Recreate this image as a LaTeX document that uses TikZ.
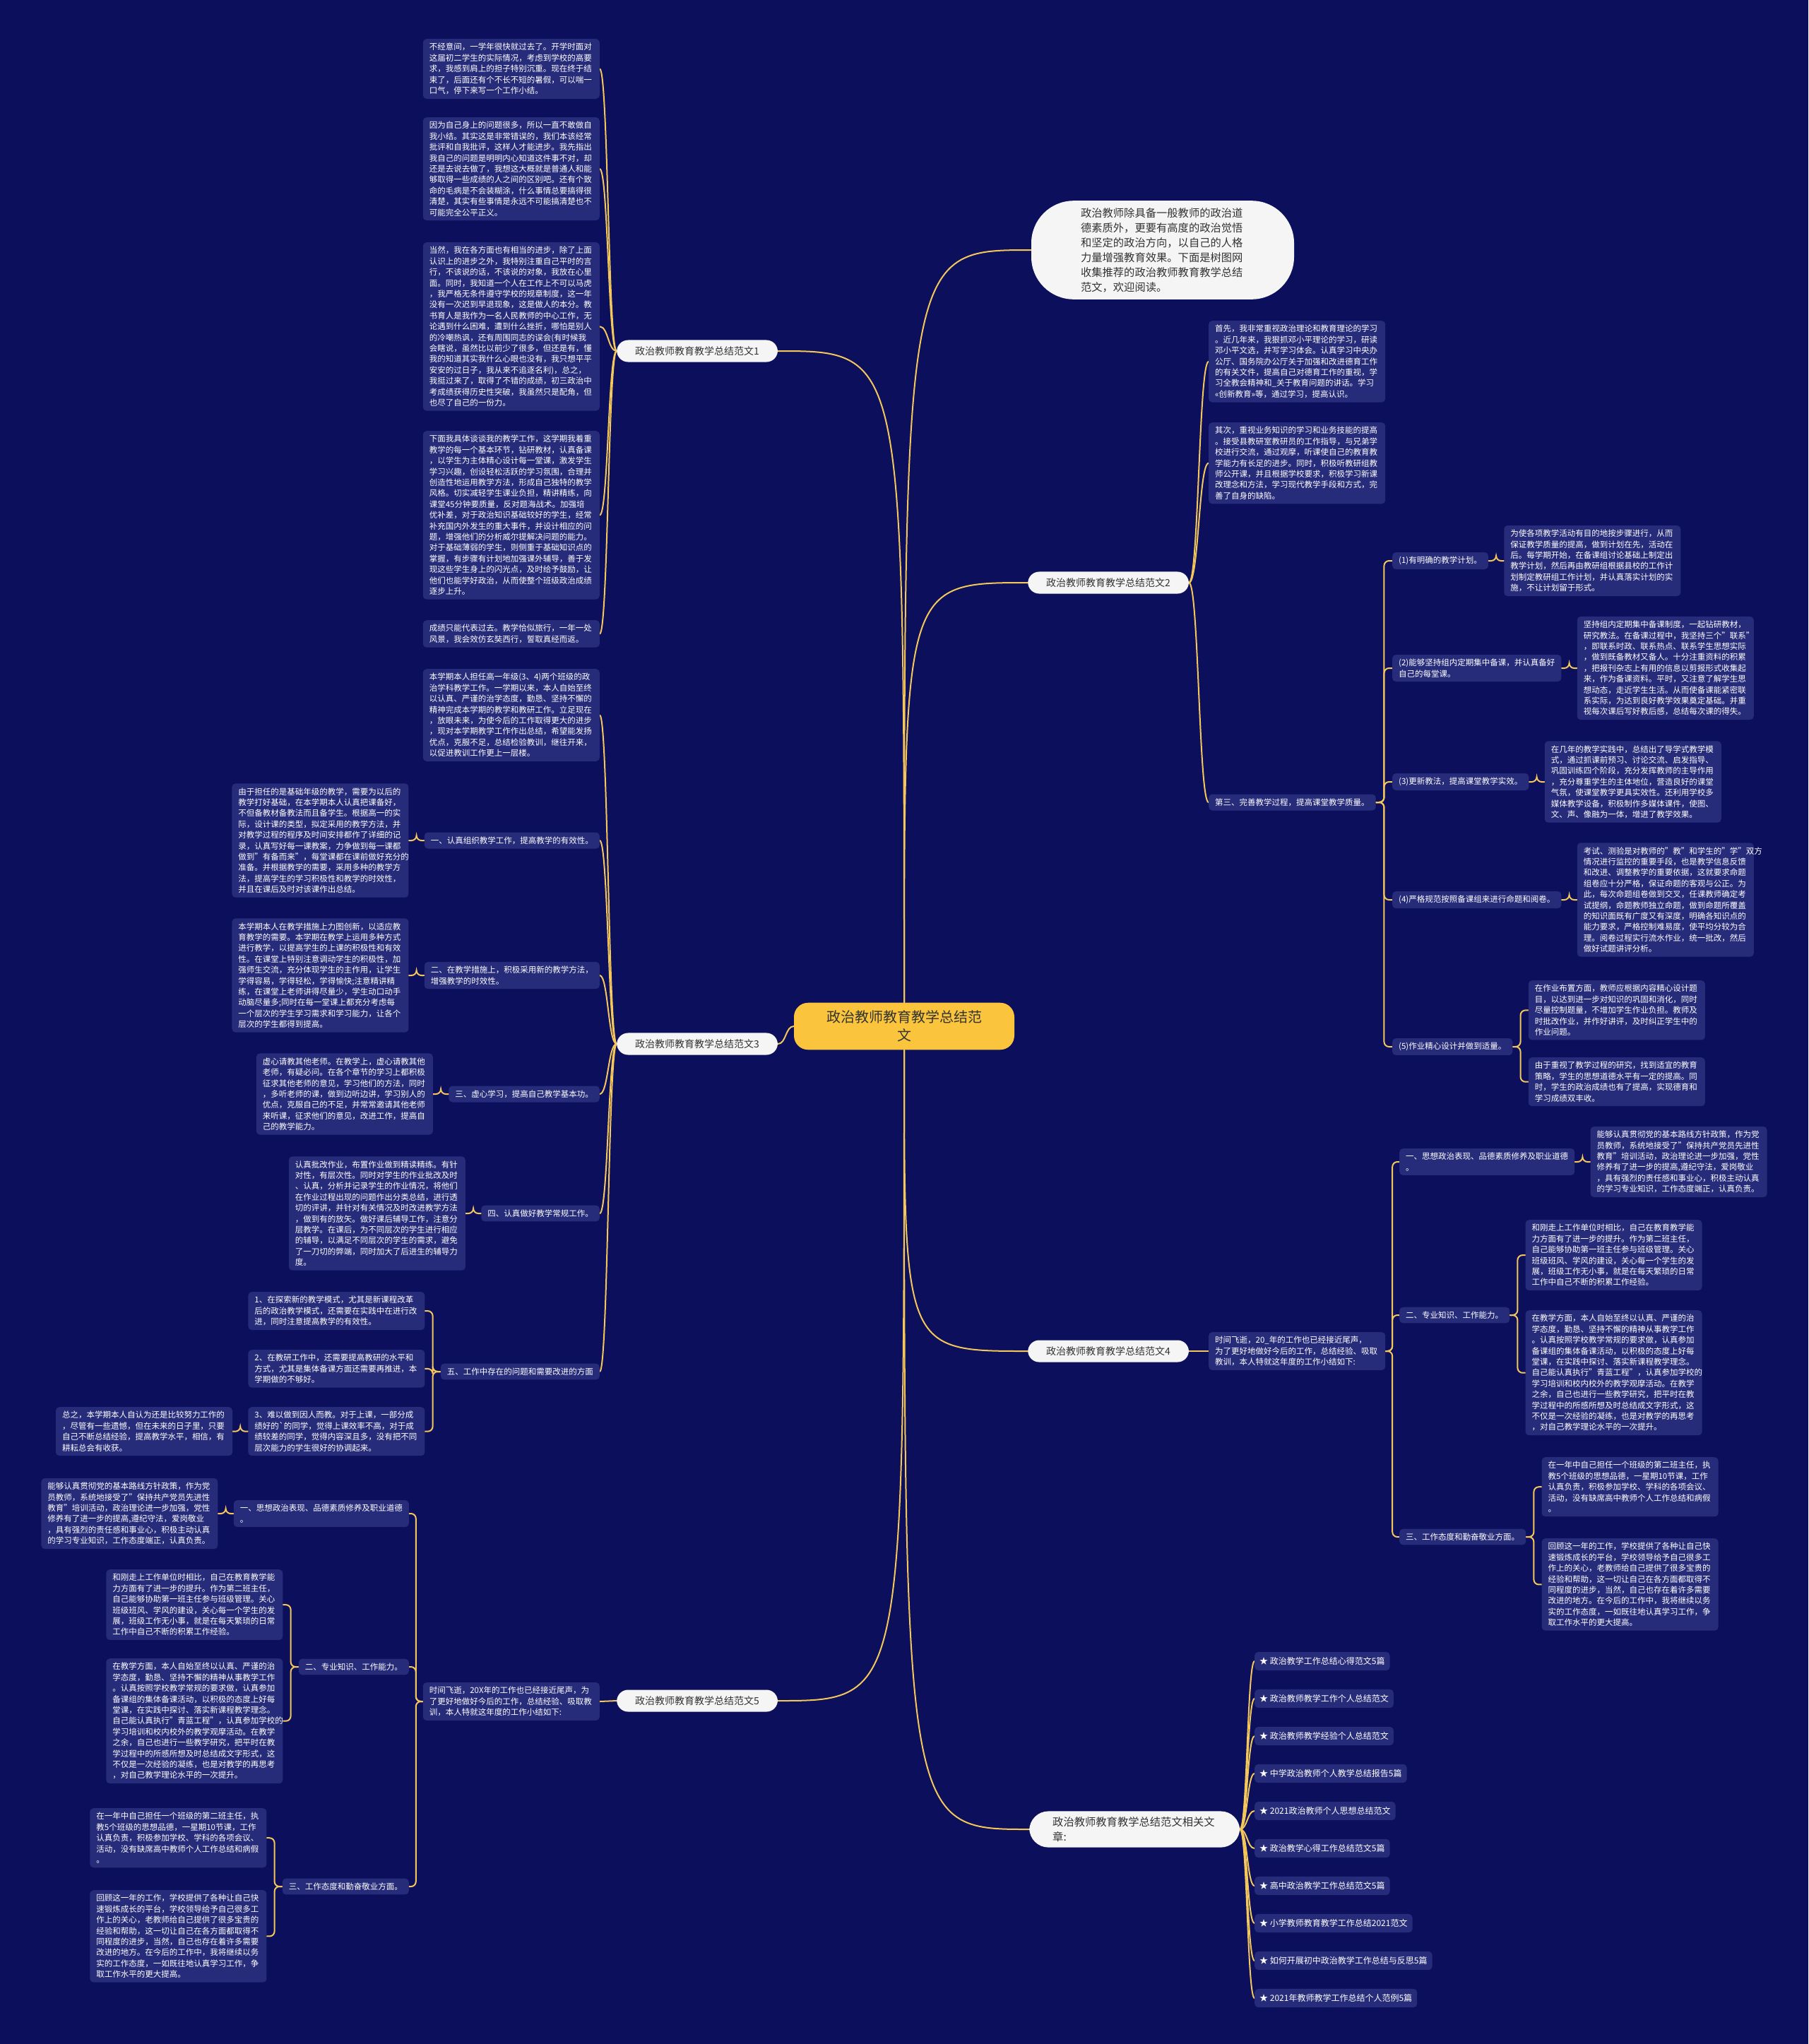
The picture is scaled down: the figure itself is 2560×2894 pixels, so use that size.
\documentclass[tikz,border=0pt]{standalone}
\usepackage{fontspec}
\setmainfont{Noto Sans CJK SC}
\usetikzlibrary{calc,positioning}
\definecolor{bgc}{HTML}{0B0F5C}
\definecolor{boxc}{HTML}{272C7A}
\definecolor{linec}{HTML}{F3C75A}
\definecolor{ctrc}{HTML}{FAC53C}
\definecolor{pillc}{HTML}{F5F5F5}
\definecolor{darkt}{HTML}{333333}
\pgfdeclarelayer{back}\pgfdeclarelayer{lines}
\pgfsetlayers{back,lines,main}
\newcommand\cL[2]{\path (#1.west) coordinate (pp) (#2.east) coordinate (qq) ($(pp)!0.5!(qq)$) coordinate (mm);\draw[link] (pp) .. controls (mm|-pp) and (mm|-qq) .. (qq);}
\newcommand\cR[2]{\path (#1.east) coordinate (pp) (#2.west) coordinate (qq) ($(pp)!0.5!(qq)$) coordinate (mm);\draw[link] (pp) .. controls (mm|-pp) and (mm|-qq) .. (qq);}
\newcommand\bL[2]{\path (#1.west) coordinate (pp) (#2.east) coordinate (qq) ($(pp)!0.5!(qq)$) coordinate (mm);\draw[brk] (pp) -- (mm|-pp) -- (mm|-qq) -- (qq);}
\newcommand\bR[2]{\path (#1.east) coordinate (pp) (#2.west) coordinate (qq) ($(pp)!0.5!(qq)$) coordinate (mm);\draw[brk] (pp) -- (mm|-pp) -- (mm|-qq) -- (qq);}
\tikzset{
 link/.style={draw=linec, line width=2pt, line cap=round},
 brk/.style={link, rounded corners=7pt},
 txt/.style={fill=boxc, rounded corners=5pt, text=white, font=\fontsize{11.5pt}{15.4pt}\selectfont, align=left, text width=232pt, inner xsep=9pt, inner ysep=6pt},
 sub/.style={fill=boxc, rounded corners=5pt, text=white, font=\fontsize{11.5pt}{15.4pt}\selectfont, align=left, inner xsep=9pt, inner ysep=6pt},
 pill/.style={fill=pillc, text=darkt, rounded corners=16pt, font=\fontsize{14pt}{18pt}\selectfont, inner xsep=26pt, inner ysep=9pt},
 ctr/.style={fill=ctrc, text=darkt, rounded corners=20pt, font=\fontsize{20pt}{26pt}\selectfont, align=center, text width=230pt, inner xsep=41pt, inner ysep=11pt},
 bubble/.style={fill=pillc, text=darkt, rounded corners=60pt, font=\fontsize{15.3pt}{21pt}\selectfont, align=left, text width=232pt, inner xsep=70pt, inner ysep=10pt},
 relc/.style={fill=pillc, text=darkt, rounded corners=27pt, font=\fontsize{15.3pt}{21pt}\selectfont, align=left, text width=232pt, inner xsep=33pt, inner ysep=8pt},
 relitem/.style={fill=boxc, rounded corners=5pt, text=white, font=\fontsize{12pt}{15pt}\selectfont, inner xsep=7pt, inner ysep=7.5pt, anchor=west}
}
\begin{document}
\begin{tikzpicture}[x=1pt,y=1pt]
\begin{pgfonlayer}{back}
\fill[bgc] (0,0) rectangle (2560,-2894);
\end{pgfonlayer}
\useasboundingbox (0,0) rectangle (2560,-2894);

% center and main branches
\node[ctr] (c) at (1280,-1453) {政治教师教育教学总结范\\文};
\node[pill, anchor=west] (b1) at (873,-497) {政治教师教育教学总结范文1};
\node[bubble] (intro) at (1646,-354) {政治教师除具备一般教师的政治道\\德素质外，更要有高度的政治觉悟\\和坚定的政治方向，以自己的人格\\力量增强教育效果。下面是树图网\\收集推荐的政治教师教育教学总结\\范文，欢迎阅读。};
\node[pill, anchor=west] (b2) at (1455,-825) {政治教师教育教学总结范文2};
\node[pill, anchor=west] (b3) at (873,-1478) {政治教师教育教学总结范文3};
\node[pill, anchor=west] (b4) at (1455,-1913) {政治教师教育教学总结范文4};
\node[pill, anchor=west] (b5) at (873,-2408) {政治教师教育教学总结范文5};
\node[relc, anchor=west] (rel) at (1457,-2590) {政治教师教育教学总结范文相关文\\章:};

% branch 1
\node[txt, anchor=north east] (t1a) at (849,-55) {不经意间，一学年很快就过去了。开学时面对\\这届初二学生的实际情况，考虑到学校的高要\\求，我感到肩上的担子特别沉重。现在终于结\\束了，后面还有个不长不短的暑假，可以喘一\\口气，停下来写一个工作小结。};
\node[txt, anchor=north east] (t1b) at (849,-166) {因为自己身上的问题很多，所以一直不敢做自\\我小结。其实这是非常错误的，我们本该经常\\批评和自我批评，这样人才能进步。我先指出\\我自己的问题是明明内心知道这件事不对，却\\还是去说去做了，我想这大概就是普通人和能\\够取得一些成绩的人之间的区别吧。还有个致\\命的毛病是不会装糊涂，什么事情总要搞得很\\清楚，其实有些事情是永远不可能搞清楚也不\\可能完全公平正义。};
\node[txt, anchor=north east] (t1c) at (849,-343) {当然，我在各方面也有相当的进步，除了上面\\认识上的进步之外，我特别注重自己平时的言\\行，不该说的话，不该说的对象，我放在心里\\面。同时，我知道一个人在工作上不可以马虎\\，我严格无条件遵守学校的规章制度，这一年\\没有一次迟到早退现象，这是做人的本分。教\\书育人是我作为一名人民教师的中心工作，无\\论遇到什么困难，遭到什么挫折，哪怕是别人\\的冷嘲热讽，还有周围同志的误会(有时候我\\会瞎说，虽然比以前少了很多，但还是有，懂\\我的知道其实我什么心眼也没有，我只想平平\\安安的过日子，我从来不追逐名利)，总之，\\我挺过来了，取得了不错的成绩，初三政治中\\考成绩获得历史性突破，我虽然只是配角，但\\也尽了自己的一份力。};
\node[txt, anchor=north east] (t1d) at (849,-610) {下面我具体谈谈我的教学工作，这学期我着重\\教学的每一个基本环节，钻研教材，认真备课\\，以学生为主体精心设计每一堂课，激发学生\\学习兴趣，创设轻松活跃的学习氛围，合理并\\创造性地运用教学方法，形成自己独特的教学\\风格。切实减轻学生课业负担，精讲精练，向\\课堂45分钟要质量，反对题海战术。加强培\\优补差，对于政治知识基础较好的学生，经常\\补充国内外发生的重大事件，并设计相应的问\\题，增强他们的分析威尔提解决问题的能力。\\对于基础薄弱的学生，则侧重于基础知识点的\\掌握，有步骤有计划地加强课外辅导，善于发\\现这些学生身上的闪光点，及时给予鼓励，让\\他们也能学好政治，从而使整个班级政治成绩\\逐步上升。};
\node[txt, anchor=north east] (t1e) at (849,-878) {成绩只能代表过去。教学恰似旅行，一年一处\\风景，我会效仿玄奘西行，誓取真经而返。};

% branch 2
\node[txt, anchor=north west] (s1) at (1711,-454) {首先，我非常重视政治理论和教育理论的学习\\。近几年来，我狠抓邓小平理论的学习，研读\\邓小平文选，并写学习体会。认真学习中央办\\公厅、国务院办公厅关于加强和改进德育工作\\的有关文件，提高自己对德育工作的重视，学\\习全教会精神和\_关于教育问题的讲话。学习\\<<创新教育>>等，通过学习，提高认识。};
\node[txt, anchor=north west] (s2) at (1711,-598) {其次，重视业务知识的学习和业务技能的提高\\。接受县教研室教研员的工作指导，与兄弟学\\校进行交流，通过观摩，听课使自己的教育教\\学能力有长足的进步。同时，积极听教研组教\\师公开课，并且根据学校要求，积极学习新课\\改理念和方法，学习现代教学手段和方式，完\\善了自身的缺陷。};
\node[sub, anchor=west] (s3) at (1711,-1136) {第三、完善教学过程，提高课堂教学质量。};
\node[sub, anchor=west] (p1) at (1971,-794) {(1)有明确的教学计划。};
\node[txt, right=22pt of p1] (q1) {为使各项教学活动有目的地按步骤进行，从而\\保证教学质量的提高，做到计划在先，活动在\\后。每学期开始，在备课组讨论基础上制定出\\教学计划，然后再由教研组根据县校的工作计\\划制定教研组工作计划，并认真落实计划的实\\施，不让计划留于形式。};
\node[sub, anchor=west] (p2) at (1971,-946) {(2)能够坚持组内定期集中备课，并认真备好\\自己的每堂课。};
\node[txt, right=22pt of p2] (q2) {坚持组内定期集中备课制度，一起钻研教材，\\研究教法。在备课过程中，我坚持三个"联系"\\，即联系时政、联系热点、联系学生思想实际\\，做到既备教材又备人。十分注重资料的积累\\，把报刊杂志上有用的信息以剪报形式收集起\\来，作为备课资料。平时，又注意了解学生思\\想动态，走近学生生活。从而使备课能紧密联\\系实际，为达到良好教学效果奠定基础。并重\\视每次课后写好教后感，总结每次课的得失。};
\node[sub, anchor=west] (p3) at (1971,-1107) {(3)更新教法，提高课堂教学实效。};
\node[txt, right=22pt of p3] (q3) {在几年的教学实践中，总结出了导学式教学模\\式，通过抓课前预习、讨论交流、启发指导、\\巩固训练四个阶段，充分发挥教师的主导作用\\，充分尊重学生的主体地位，营造良好的课堂\\气氛，使课堂教学更具实效性。还利用学校多\\媒体教学设备，积极制作多媒体课件，使图、\\文、声、像融为一体，增进了教学效果。};
\node[sub, anchor=west] (p4) at (1971,-1274) {(4)严格规范按照备课组来进行命题和阅卷。};
\node[txt, right=22pt of p4] (q4) {考试、测验是对教师的"教"和学生的"学"双方\\情况进行监控的重要手段，也是教学信息反馈\\和改进、调整教学的重要依据，这就要求命题\\组卷应十分严格，保证命题的客观与公正。为\\此，每次命题组卷做到交叉，任课教师确定考\\试提纲，命题教师独立命题，做到命题所覆盖\\的知识面既有广度又有深度，明确各知识点的\\能力要求，严格控制难易度，使平均分较为合\\理。阅卷过程实行流水作业，统一批改，然后\\做好试题讲评分析。};
\node[sub, anchor=west] (p5) at (1971,-1482) {(5)作业精心设计并做到适量。};
\node[txt, anchor=north west] (q5a) at ($(p5.east |- 0,-1388)+(22,0)$) {在作业布置方面，教师应根据内容精心设计题\\目，以达到进一步对知识的巩固和消化，同时\\尽量控制题量，不增加学生作业负担。教师及\\时批改作业，并作好讲评，及时纠正学生中的\\作业问题。};
\node[txt, anchor=north west] (q5b) at ($(p5.east |- 0,-1497)+(22,0)$) {由于重视了教学过程的研究，找到适宜的教育\\策略，学生的思想道德水平有一定的提高。同\\时，学生的政治成绩也有了提高，实现德育和\\学习成绩双丰收。};

% branch 3
\node[txt, anchor=north east] (t3a) at (849,-947) {本学期本人担任高一年级(3、4)两个班级的政\\治学科教学工作。一学期以来，本人自始至终\\以认真、严谨的治学态度，勤恳、坚持不懈的\\精神完成本学期的教学和教研工作。立足现在\\，放眼未来，为使今后的工作取得更大的进步\\，现对本学期教学工作作出总结，希望能发扬\\优点，克服不足，总结检验教训，继往开来，\\以促进教训工作更上一层楼。};
\node[sub, anchor=east] (n31) at (849,-1190) {一、认真组织教学工作，提高教学的有效性。};
\node[txt, left=22pt of n31] (u31) {由于担任的是基础年级的教学，需要为以后的\\教学打好基础，在本学期本人认真把课备好，\\不但备教材备教法而且备学生。根据高一的实\\际，设计课的类型，拟定采用的教学方法，并\\对教学过程的程序及时间安排都作了详细的记\\录，认真写好每一课教案，力争做到每一课都\\做到"有备而来"，每堂课都在课前做好充分的\\准备。并根据教学的需要，采用多种的教学方\\法，提高学生的学习积极性和教学的时效性，\\并且在课后及时对该课作出总结。};
\node[sub, anchor=east] (n32) at (849,-1381) {二、在教学措施上，积极采用新的教学方法，\\增强教学的时效性。};
\node[txt, left=22pt of n32] (u32) {本学期本人在教学措施上力图创新，以适应教\\育教学的需要。本学期在教学上运用多种方式\\进行教学，以提高学生的上课的积极性和有效\\性。在课堂上特别注意调动学生的积极性，加\\强师生交流，充分体现学生的主作用，让学生\\学得容易，学得轻松，学得愉快;注意精讲精\\练，在课堂上老师讲得尽量少，学生动口动手\\动脑尽量多;同时在每一堂课上都充分考虑每\\一个层次的学生学习需求和学习能力，让各个\\层次的学生都得到提高。};
\node[sub, anchor=east] (n33) at (849,-1549) {三、虚心学习，提高自己教学基本功。};
\node[txt, left=22pt of n33] (u33) {虚心请教其他老师。在教学上，虚心请教其他\\老师，有疑必问。在各个章节的学习上都积极\\征求其他老师的意见，学习他们的方法，同时\\，多听老师的课，做到边听边讲，学习别人的\\优点，克服自己的不足，并常常邀请其他老师\\来听课，征求他们的意见，改进工作，提高自\\己的教学能力。};
\node[sub, anchor=east] (n34) at (849,-1718) {四、认真做好教学常规工作。};
\node[txt, left=22pt of n34] (u34) {认真批改作业，布置作业做到精读精练。有针\\对性，有层次性。同时对学生的作业批改及时\\、认真，分析并记录学生的作业情况，将他们\\在作业过程出现的问题作出分类总结，进行透\\切的评讲，并针对有关情况及时改进教学方法\\，做到有的放矢。做好课后辅导工作，注意分\\层教学。在课后，为不同层次的学生进行相应\\的辅导，以满足不同层次的学生的需求，避免\\了一刀切的弊端，同时加大了后进生的辅导力\\度。};
\node[sub, anchor=east] (n35) at (849,-1942) {五、工作中存在的问题和需要改进的方面};
\node[txt, anchor=north east] (u35a) at ($(n35.west |- 0,-1829)+(-22,0)$) {1、在探索新的教学模式，尤其是新课程改革\\后的政治教学模式，还需要在实践中在进行改\\进，同时注意提高教学的有效性。};
\node[txt, anchor=north east] (u35b) at ($(n35.west |- 0,-1911)+(-22,0)$) {2、在教研工作中，还需要提高教研的水平和\\方式，尤其是集体备课方面还需要再推进，本\\学期做的不够好。};
\node[txt, anchor=north east] (u35c) at ($(n35.west |- 0,-1992)+(-22,0)$) {3、难以做到因人而教。对于上课，一部分成\\绩好的{\textasciigrave}的同学，觉得上课效率不高，对于成\\绩较差的同学，觉得内容深且多，没有把不同\\层次能力的学生很好的协调起来。};
\node[txt, left=22pt of u35c] (u35d) {总之，本学期本人自认为还是比较努力工作的\\，尽管有一些遗憾，但在未来的日子里，只要\\自己不断总结经验，提高教学水平，相信，有\\耕耘总会有收获。};

% branch 4
\node[txt, anchor=west] (t4) at (1711,-1913) {时间飞逝，20\_年的工作也已经接近尾声，\\为了更好地做好今后的工作，总结经验、吸取\\教训，本人特就这年度的工作小结如下:};
\node[sub, anchor=west] (n41) at (1981,-1645) {一、思想政治表现、品德素质修养及职业道德\\。};
\node[txt, right=22pt of n41] (u41) {能够认真贯彻党的基本路线方针政策，作为党\\员教师，系统地接受了"保持共产党员先进性\\教育"培训活动，政治理论进一步加强，党性\\修养有了进一步的提高,遵纪守法，爱岗敬业\\，具有强烈的责任感和事业心，积极主动认真\\的学习专业知识，工作态度端正，认真负责。};
\node[sub, anchor=west] (n42) at (1981,-1862) {二、专业知识、工作能力。};
\node[txt, anchor=north west] (u42a) at ($(n42.east |- 0,-1727)+(22,0)$) {和刚走上工作单位时相比，自己在教育教学能\\力方面有了进一步的提升。作为第二班主任，\\自己能够协助第一班主任参与班级管理。关心\\班级班风、学风的建设，关心每一个学生的发\\展，班级工作无小事，就是在每天繁琐的日常\\工作中自己不断的积累工作经验。};
\node[txt, anchor=north west] (u42b) at ($(n42.east |- 0,-1855)+(22,0)$) {在教学方面，本人自始至终以认真、严谨的治\\学态度，勤恳、坚持不懈的精神从事教学工作\\。认真按照学校教学常规的要求做，认真参加\\备课组的集体备课活动，以积极的态度上好每\\堂课，在实践中探讨、落实新课程教学理念。\\自己能认真执行"青蓝工程"，认真参加学校的\\学习培训和校内校外的教学观摩活动。在教学\\之余，自己也进行一些教学研究，把平时在教\\学过程中的所感所想及时总结成文字形式，这\\不仅是一次经验的凝练，也是对教学的再思考\\，对自己教学理论水平的一次提升。};
\node[sub, anchor=west] (n43) at (1981,-2176) {三、工作态度和勤奋敬业方面。};
\node[txt, anchor=north west] (u43a) at ($(n43.east |- 0,-2063)+(22,0)$) {在一年中自己担任一个班级的第二班主任，执\\教5个班级的思想品德，一星期10节课，工作\\认真负责，积极参加学校、学科的各项会议、\\活动，没有缺席高中教师个人工作总结和病假\\。};
\node[txt, anchor=north west] (u43b) at ($(n43.east |- 0,-2178)+(22,0)$) {回顾这一年的工作，学校提供了各种让自己快\\速锻炼成长的平台，学校领导给予自己很多工\\作上的关心，老教师给自己提供了很多宝贵的\\经验和帮助，这一切让自己在各方面都取得不\\同程度的进步，当然，自己也存在着许多需要\\改进的地方。在今后的工作中，我将继续以务\\实的工作态度，一如既往地认真学习工作，争\\取工作水平的更大提高。};

% branch 5
\node[txt, anchor=east] (t5) at (849,-2409) {时间飞逝，20X年的工作也已经接近尾声，为\\了更好地做好今后的工作，总结经验、吸取教\\训，本人特就这年度的工作小结如下:};
\node[sub, anchor=east] (n51) at (579,-2143) {一、思想政治表现、品德素质修养及职业道德\\。};
\node[txt, left=22pt of n51] (u51) {能够认真贯彻党的基本路线方针政策，作为党\\员教师，系统地接受了"保持共产党员先进性\\教育"培训活动，政治理论进一步加强，党性\\修养有了进一步的提高,遵纪守法，爱岗敬业\\，具有强烈的责任感和事业心，积极主动认真\\的学习专业知识，工作态度端正，认真负责。};
\node[sub, anchor=east] (n52) at (579,-2360) {二、专业知识、工作能力。};
\node[txt, anchor=north east] (u52a) at ($(n52.west |- 0,-2222)+(-22,0)$) {和刚走上工作单位时相比，自己在教育教学能\\力方面有了进一步的提升。作为第二班主任，\\自己能够协助第一班主任参与班级管理。关心\\班级班风、学风的建设，关心每一个学生的发\\展，班级工作无小事，就是在每天繁琐的日常\\工作中自己不断的积累工作经验。};
\node[txt, anchor=north east] (u52b) at ($(n52.west |- 0,-2348)+(-22,0)$) {在教学方面，本人自始至终以认真、严谨的治\\学态度，勤恳、坚持不懈的精神从事教学工作\\。认真按照学校教学常规的要求做，认真参加\\备课组的集体备课活动，以积极的态度上好每\\堂课，在实践中探讨、落实新课程教学理念。\\自己能认真执行"青蓝工程"，认真参加学校的\\学习培训和校内校外的教学观摩活动。在教学\\之余，自己也进行一些教学研究，把平时在教\\学过程中的所感所想及时总结成文字形式，这\\不仅是一次经验的凝练，也是对教学的再思考\\，对自己教学理论水平的一次提升。};
\node[sub, anchor=east] (n53) at (579,-2671) {三、工作态度和勤奋敬业方面。};
\node[txt, anchor=north east] (u53a) at ($(n53.west |- 0,-2560)+(-22,0)$) {在一年中自己担任一个班级的第二班主任，执\\教5个班级的思想品德，一星期10节课，工作\\认真负责，积极参加学校、学科的各项会议、\\活动，没有缺席高中教师个人工作总结和病假\\。};
\node[txt, anchor=north east] (u53b) at ($(n53.west |- 0,-2676)+(-22,0)$) {回顾这一年的工作，学校提供了各种让自己快\\速锻炼成长的平台，学校领导给予自己很多工\\作上的关心，老教师给自己提供了很多宝贵的\\经验和帮助，这一切让自己在各方面都取得不\\同程度的进步，当然，自己也存在着许多需要\\改进的地方。在今后的工作中，我将继续以务\\实的工作态度，一如既往地认真学习工作，争\\取工作水平的更大提高。};

% related
\node[relitem] (r1) at (1776,-2352) {★ 政治教学工作总结心得范文5篇};
\node[relitem] (r2) at (1776,-2405) {★ 政治教师教学工作个人总结范文};
\node[relitem] (r3) at (1776,-2458) {★ 政治教师教学经验个人总结范文};
\node[relitem] (r4) at (1776,-2511) {★ 中学政治教师个人教学总结报告5篇};
\node[relitem] (r5) at (1776,-2564) {★ 2021政治教师个人思想总结范文};
\node[relitem] (r6) at (1776,-2617) {★ 政治教学心得工作总结范文5篇};
\node[relitem] (r7) at (1776,-2670) {★ 高中政治教学工作总结范文5篇};
\node[relitem] (r8) at (1776,-2723) {★ 小学教师教育教学工作总结2021范文};
\node[relitem] (r9) at (1776,-2776) {★ 如何开展初中政治教学工作总结与反思5篇};
\node[relitem] (r10) at (1776,-2829) {★ 2021年教师教学工作总结个人范例5篇};

% connectors
\begin{pgfonlayer}{lines}
\draw[link] (c.north) .. controls (c.north |- b1.east) .. (b1.east);
\draw[link] (c.north) .. controls (c.north |- intro.west) .. (intro.west);
\draw[link] (c.north) .. controls (c.north |- b2.west) .. (b2.west);
\draw[link] (c.west) .. controls +(-12,0) and +(12,0) .. (b3.east);
\draw[link] (c.south) .. controls (c.south |- b4.west) .. (b4.west);
\draw[link] (c.south) .. controls (c.south |- b5.east) .. (b5.east);
\draw[link] (c.south) .. controls (c.south |- rel.west) .. (rel.west);
\foreach \t in {t1a,t1b,t1c,t1d,t1e} {\cL{b1}{\t}}
\foreach \t in {s1,s2,s3} {\cR{b2}{\t}}
\foreach \t in {p1,p2,p3,p4,p5} {\bR{s3}{\t}}
\bR{p1}{q1}\bR{p2}{q2}\bR{p3}{q3}\bR{p4}{q4}\bR{p5}{q5a}\bR{p5}{q5b}
\foreach \t in {t3a,n31,n32,n33,n34,n35} {\cL{b3}{\t}}
\bL{n31}{u31}\bL{n32}{u32}\bL{n33}{u33}\bL{n34}{u34}
\bL{n35}{u35a}\bL{n35}{u35b}\bL{n35}{u35c}\bL{u35c}{u35d}
\cR{b4}{t4}
\bR{t4}{n41}\bR{t4}{n42}\bR{t4}{n43}
\bR{n41}{u41}\bR{n42}{u42a}\bR{n42}{u42b}\bR{n43}{u43a}\bR{n43}{u43b}
\cL{b5}{t5}
\bL{t5}{n51}\bL{t5}{n52}\bL{t5}{n53}
\bL{n51}{u51}\bL{n52}{u52a}\bL{n52}{u52b}\bL{n53}{u53a}\bL{n53}{u53b}
\foreach \t in {r1,r2,r3,r4,r5,r6,r7,r8,r9,r10} {\cR{rel}{\t}}
\end{pgfonlayer}
\end{tikzpicture}
\end{document}
